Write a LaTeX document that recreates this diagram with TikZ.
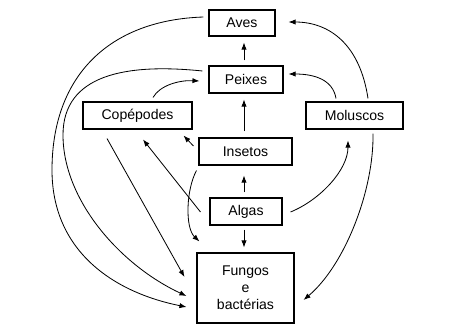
\documentclass[tikz,border=0pt]{standalone}
\usepackage{fontspec}
\setmainfont{Liberation Sans}
\usetikzlibrary{arrows.meta,calc}
\begin{document}
\begin{tikzpicture}[x=0.03cm,y=-0.03cm,
  box/.style={draw,line width=0.9pt,inner sep=0pt,font=\fontsize{12}{14.5}\selectfont,align=center},
  arr/.style={line width=0.7pt,-{Latex[length=6pt,width=4.5pt]}}]
\useasboundingbox (0,0) rectangle (463,328);
\node[box,minimum width=1.98cm,minimum height=0.78cm] (aves) at (242,23) {Aves};
\node[box,minimum width=2.22cm,minimum height=0.81cm] (peixes) at (246,79.5) {Peixes};
\node[box,minimum width=3.27cm,minimum height=0.81cm] (cope) at (137.5,115.5) {Copépodes};
\node[box,minimum width=2.79cm,minimum height=0.81cm] (insetos) at (245.5,151.5) {Insetos};
\node[box,minimum width=2.91cm,minimum height=0.81cm] (molus) at (354.5,115.5) {Moluscos};
\node[box,minimum width=2.16cm,minimum height=0.81cm] (algas) at (246,211.5) {Algas};
\node[box,minimum width=2.91cm,minimum height=2.1cm] (fungos) at (245.5,288) {Fungos\\e\\bactérias};
% vertical chain
\draw[arr] ($(peixes.north)+(-2,-5)$) -- ($(aves.south)+(2,6)$);
\draw[arr] ($(insetos.north)+(-1.5,-6)$) -- ($(peixes.south)+(-2,6)$);
\draw[arr] ($(algas.north)+(-2,-5)$) -- ($(insetos.south)+(-1.5,10)$);
\draw[arr] ($(algas.south)+(-2,4)$) -- ($(fungos.north)+(-1.5,-5)$);
% to copepodes
\draw[arr] ($(insetos.west)+(-5,-5.5)$) -- ($(cope.south east)+(-9,6)$);
\draw[arr] ($(algas.west)+(-9,0.5)$) -- ($(cope.south)+(5.5,10)$);
% insetos -> fungos
\draw[arr] ($(insetos.south west)+(-2,5)$) .. controls (186,190) and (185,228) .. ($(fungos.north west)+(3,-11)$);
% copepodes -> fungos
\draw[arr] ($(cope.south)+(-30.5,9)$) -- ($(fungos.west)+(-12,-11)$);
% copepodes -> peixes
\draw[arr] ($(cope.north)+(15.5,-4)$) .. controls (160,85) and (180,80) .. ($(peixes.west)+(-9,1.5)$);
% peixes -> fungos
\draw[arr] ($(peixes.west)+(-6,-8.5)$) .. controls (125,63) and (63,75) .. (63,135)
  .. controls (63,200) and (120,265) .. ($(fungos.west)+(-10,8)$);
% aves -> fungos
\draw[arr] ($(aves.west)+(-5,-6)$) .. controls (110,20) and (52,75) .. (52,170)
  .. controls (52,250) and (112,292) .. ($(fungos.west)+(-10,19)$);
% moluscos -> peixes, aves
\draw[arr] ($(molus.north)+(-18.5,-3)$) .. controls (333,80) and (315,74) .. ($(peixes.east)+(5,-5.5)$);
\draw[arr] ($(molus.north)+(13.5,-3)$) .. controls (360,45) and (330,22) .. ($(aves.east)+(13,-1)$);
% algas -> moluscos
\draw[arr] ($(algas.east)+(8,0.5)$) .. controls (320,200) and (348,170) .. ($(molus.south)+(-6.5,11)$);
% moluscos -> fungos
\draw[arr] ($(molus.south)+(18.5,4)$) .. controls (374,190) and (345,265) .. ($(fungos.east)+(9,12)$);
\end{tikzpicture}
\end{document}
